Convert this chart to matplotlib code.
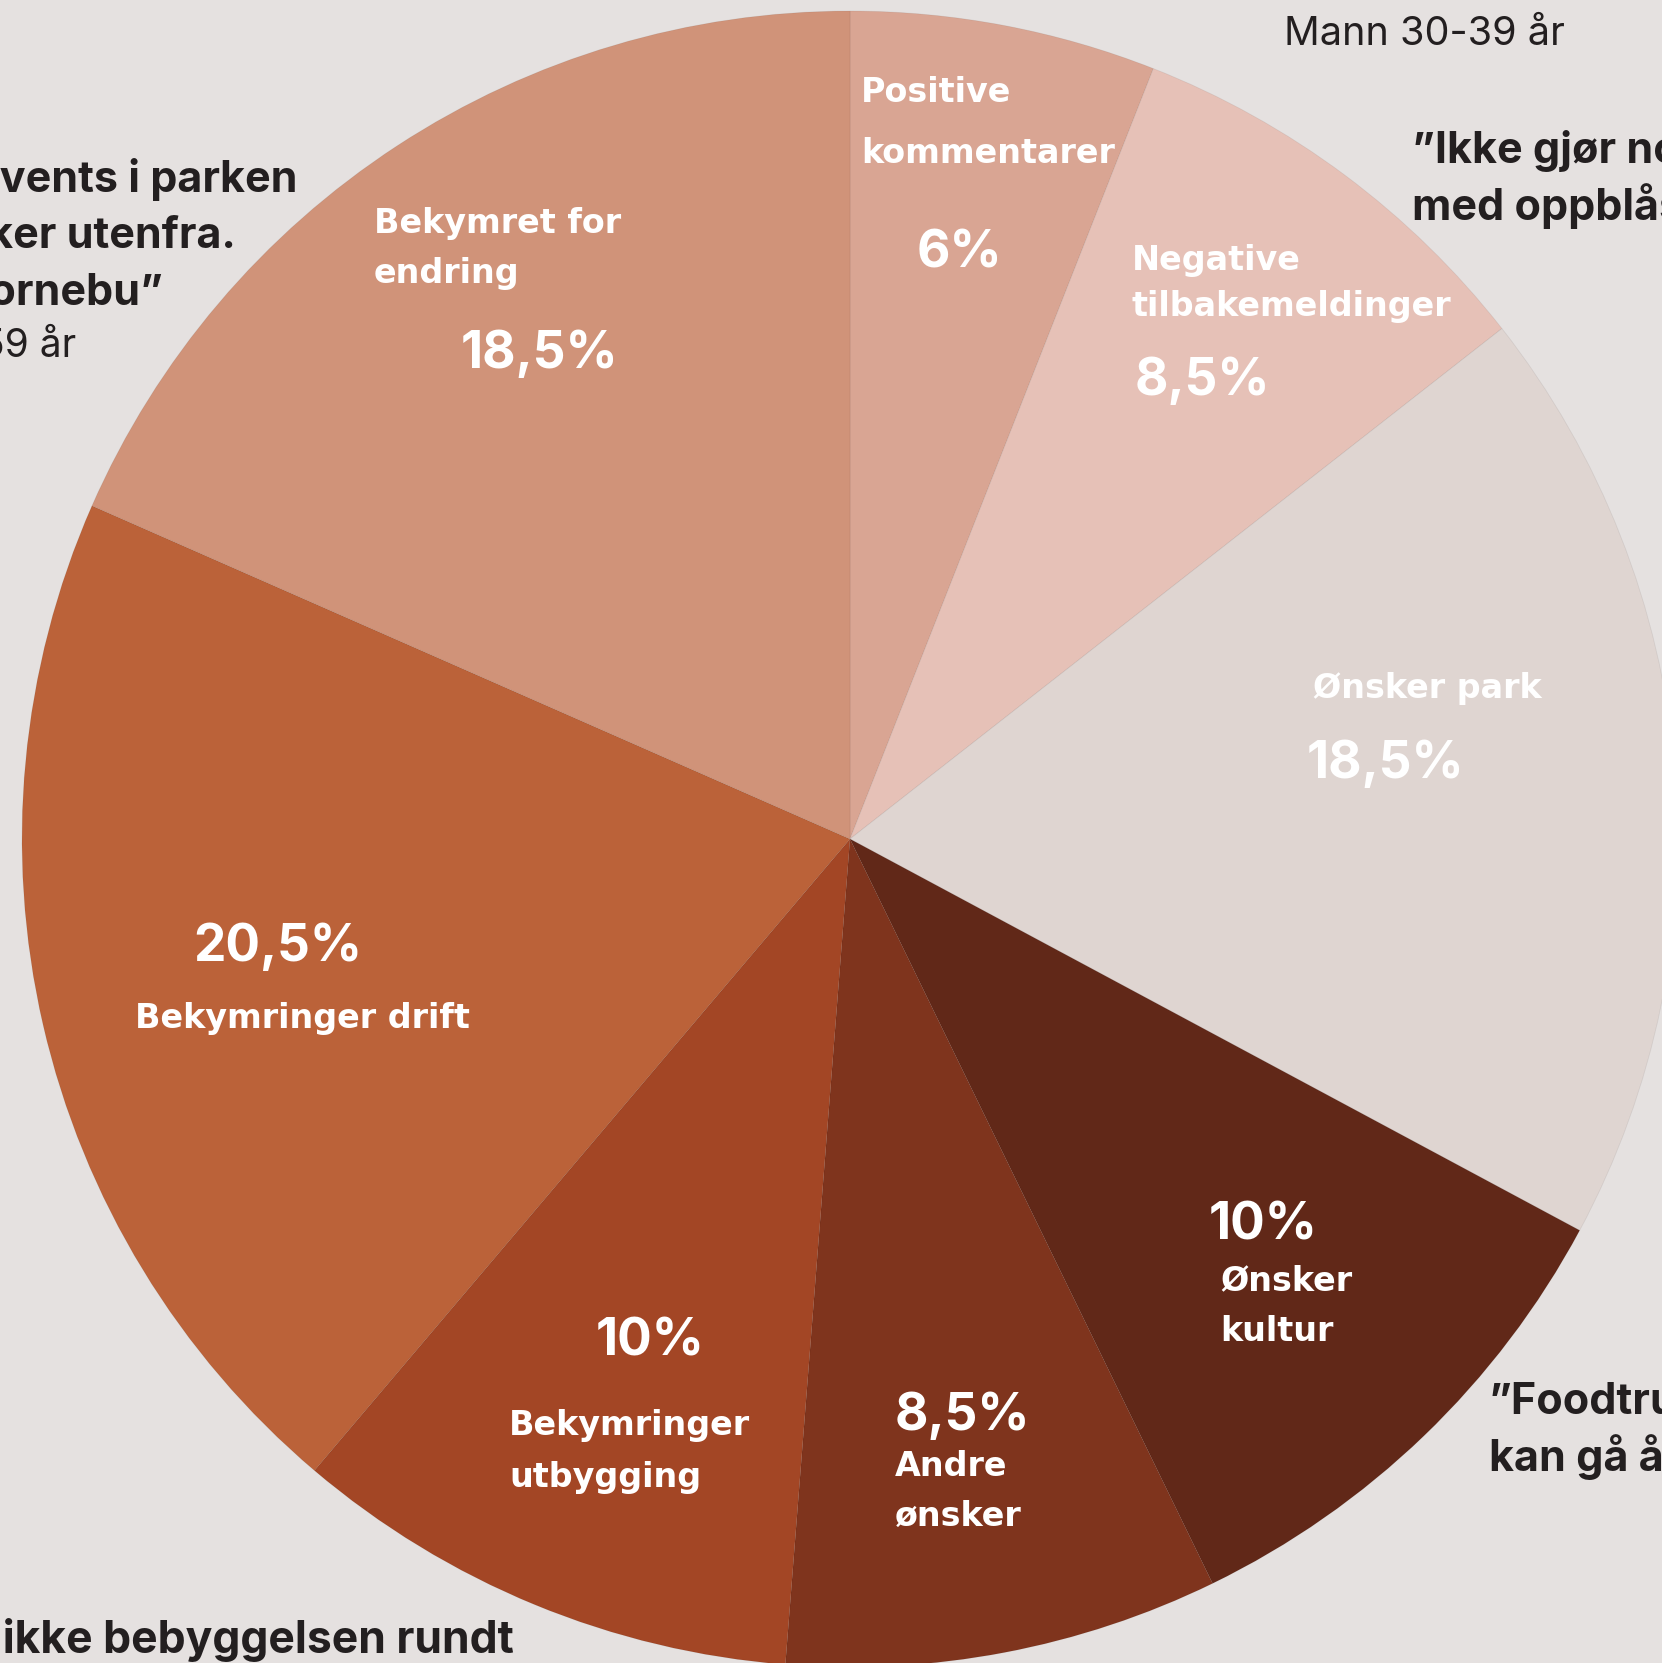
import matplotlib
matplotlib.use("Agg")
import matplotlib.pyplot as plt

# ---- data ----
categories = ["Positive kommentarer", "Negative tilbakemeldinger", "Ønsker park",
              "Ønsker kultur", "Andre ønsker", "Bekymringer utbygging",
              "Bekymringer drift", "Bekymret for endring"]
values = [6, 8.5, 18.5, 10, 8.5, 10, 20.5, 18.5]
pct_labels = ["6%", "8,5%", "18,5%", "10%", "8,5%", "10%", "20,5%", "18,5%"]
colors = ["#D9A593", "#E6C1B7", "#DFD5D1", "#612818", "#7F341D", "#A34625",
          "#BB6239", "#D09379"]

W, H = 1662, 1663
BG = "#E5E1E0"
DARK = "#231F20"
FONT = ["Inter", "DejaVu Sans"]
LFONT = ["DejaVu Sans"]

fig = plt.figure(figsize=(W / 100, H / 100), dpi=100, facecolor=BG)
ax = fig.add_axes([0, 0, 1, 1])
ax.set_facecolor(BG)

cx, cy, r = 850, 839, 828
ax.pie(values, colors=colors, startangle=90, counterclock=False,
       center=(cx, H - cy), radius=r, wedgeprops=dict(linewidth=0.6, edgecolor="#00000010"))
ax.set_xlim(0, W)
ax.set_ylim(0, H)
ax.set_aspect("auto")
ax.axis("off")


def t(x, y, s, size, color="white", weight="bold", ha="left", family=FONT):
    ax.text(x, H - y, s, fontsize=size, color=color, fontweight=weight,
            ha=ha, va="baseline", family=family)


def lab(x, y, s):
    t(x, y, s, 24, family=LFONT)


PCT = 37

# slice labels (pixel coords, baseline)
lab(861, 102, "Positive")
lab(861, 163, "kommentarer")
t(917, 268, pct_labels[0], PCT)

lab(1132, 270, "Negative")
lab(1132, 316, "tilbakemeldinger")
t(1135, 395, pct_labels[1], PCT)

lab(1313, 698, "Ønsker park")
t(1307, 778, pct_labels[2], PCT)

t(1209, 1240, pct_labels[3], PCT)
lab(1220, 1290, "Ønsker")
lab(1220, 1341, "kultur")

t(895, 1430, pct_labels[4], PCT)
lab(895, 1476, "Andre")
lab(895, 1526, "ønsker")

t(596, 1355, pct_labels[5], PCT)
lab(509, 1435, "Bekymringer")
lab(509, 1487, "utbygging")

t(193, 961, pct_labels[6], PCT)
lab(135, 1028, "Bekymringer drift")

lab(374, 233, "Bekymret for")
lab(374, 283, "endring")
t(461, 368, pct_labels[7], PCT)

# surrounding quotes (partly outside the picture, as in the source)
Q = 31
t(298, 192, "Flere events i parken", Q, color=DARK, ha="right")
t(236, 248, "tiltrekker utenfra.", Q, color=DARK, ha="right")
t(163, 305, "Fornebu”", Q, color=DARK, ha="right")
t(76, 357, "Kvinne 50-59 år", 28, color=DARK, weight="normal", ha="right")

t(1284, 45, "Mann 30-39 år", 28.5, color=DARK, weight="normal")

t(1412, 163, "”Ikke gjør noe", Q, color=DARK)
t(1412, 220, "med oppblåste", Q, color=DARK)

t(1489, 1414, "”Foodtrucks", Q, color=DARK)
t(1489, 1471, "kan gå åpne", Q, color=DARK)

t(514, 1653, "Ødelegg ikke bebyggelsen rundt", 32, color=DARK, ha="right")

fig.savefig("out.png", dpi=100, facecolor=BG)
